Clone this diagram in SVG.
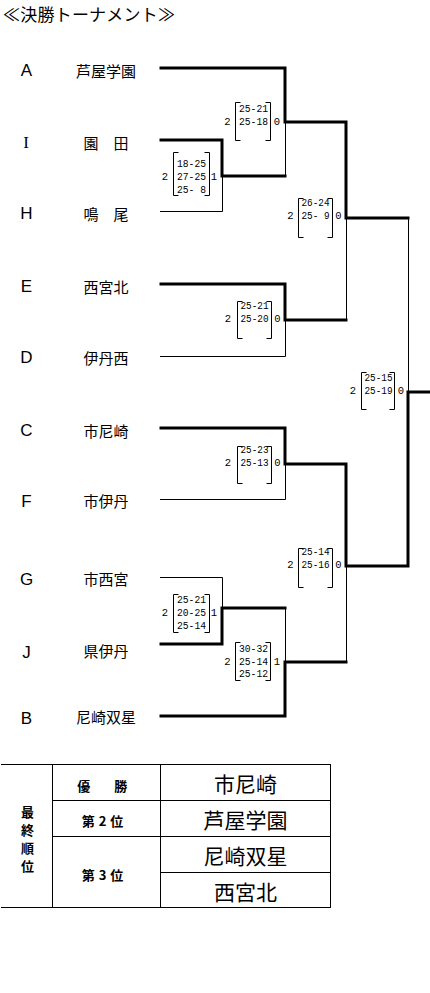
<svg xmlns="http://www.w3.org/2000/svg" width="430" height="993" viewBox="0 0 430 993">
<style>
.ltr{font-family:"Liberation Sans",Arial,sans-serif;font-size:17px;text-anchor:middle;dominant-baseline:central;fill:#000}
.ltr-i{font-family:"Liberation Serif","Times New Roman",serif;font-size:17px;text-anchor:middle;dominant-baseline:central;fill:#000}
.nm{font-family:"Noto Sans CJK JP","Noto Sans CJK SC",sans-serif;font-size:15px;text-anchor:middle;dominant-baseline:central;fill:#000}
.sc{font-family:"Liberation Mono","Courier New",monospace;font-size:10.5px;dominant-baseline:central;fill:#000}
.scn{font-family:"Liberation Mono","Courier New",monospace;font-size:10.5px;text-anchor:middle;dominant-baseline:central;fill:#000}
.br{fill:none;stroke:#000;stroke-width:1}
.thick{fill:none;stroke:#000;stroke-width:3;stroke-linejoin:miter;stroke-linecap:square}
.thin{fill:none;stroke:#000;stroke-width:1}
.tl{fill:none;stroke:#000;stroke-width:1;shape-rendering:crispEdges}
.lab{font-family:"Noto Sans CJK JP","Noto Sans CJK SC",sans-serif;font-size:13px;font-weight:bold;text-anchor:middle;dominant-baseline:central;fill:#000}
.big{font-family:"Noto Sans CJK JP","Noto Sans CJK SC",sans-serif;font-size:21px;text-anchor:middle;dominant-baseline:central;fill:#000}
.title{font-family:"Noto Sans CJK JP","Noto Sans CJK SC",sans-serif;font-size:17px;dominant-baseline:central;fill:#000}
</style>
<rect x="0" y="0" width="430" height="993" fill="#fff"/>

<g id="title">
<text class="title" x="3" y="13" textLength="172" lengthAdjust="spacing">≪決勝トーナメント≫</text>
</g>

<g id="connectors">
<path class="thick" d="M161,68 H285 V122 H346 V218 H408"/>
<path class="thick" d="M161,140 H222 V176 H285"/>
<path class="thick" d="M161,284 H285 V320 H346"/>
<path class="thick" d="M161,428 H285 V464 H346 V566 H408 V392 H430"/>
<path class="thick" d="M161,644 H222 V608 H285"/>
<path class="thick" d="M161,716 H285 V662 H346"/>
<path class="thin" d="M160,211.5 H222.5 V176"/>
<path class="thin" d="M285.5,122 V176"/>
<path class="thin" d="M160,356.5 H285.5 V320"/>
<path class="thin" d="M346.5,218 V320"/>
<path class="thin" d="M408.5,218 V392"/>
<path class="thin" d="M160,499.5 H285.5 V464"/>
<path class="thin" d="M160,577.5 H222.5 V608"/>
<path class="thin" d="M285.5,608 V662"/>
<path class="thin" d="M346.5,566 V662"/>
</g>

<g id="team-A"><text class="ltr" x="26.5" y="70">A</text><text class="nm" x="106" y="70">芦屋学園</text></g>
<g id="team-I"><text class="ltr-i" x="26" y="142">I</text><text class="nm" x="106" y="142">園　田</text></g>
<g id="team-H"><text class="ltr" x="26.5" y="213">H</text><text class="nm" x="106" y="213">鳴　尾</text></g>
<g id="team-E"><text class="ltr" x="26.5" y="286">E</text><text class="nm" x="106" y="286">西宮北</text></g>
<g id="team-D"><text class="ltr" x="26.5" y="357">D</text><text class="nm" x="106" y="357">伊丹西</text></g>
<g id="team-C"><text class="ltr" x="26.5" y="430">C</text><text class="nm" x="106" y="430">市尼崎</text></g>
<g id="team-F"><text class="ltr" x="26.5" y="501">F</text><text class="nm" x="106" y="500">市伊丹</text></g>
<g id="team-G"><text class="ltr" x="26.5" y="579">G</text><text class="nm" x="106" y="578">市西宮</text></g>
<g id="team-J"><text class="ltr" x="26.5" y="652">J</text><text class="nm" x="106" y="650">県伊丹</text></g>
<g id="team-B"><text class="ltr" x="26.5" y="718">B</text><text class="nm" x="106" y="716">尼崎双星</text></g>

<g id="match-IH">
<path class="br" d="M178.5,152.5 H173.5 V195.5 H178.5 M204.5,152.5 H209.5 V195.5 H204.5"/>
<text class="scn" x="165" y="177">2</text><text class="scn" x="214" y="177">1</text>
<text class="sc" x="177" y="164" textLength="29" lengthAdjust="spacingAndGlyphs" xml:space="preserve">18-25</text>
<text class="sc" x="177" y="177" textLength="29" lengthAdjust="spacingAndGlyphs" xml:space="preserve">27-25</text>
<text class="sc" x="177" y="190" textLength="29" lengthAdjust="spacingAndGlyphs" xml:space="preserve">25- 8</text>
</g>

<g id="match-A">
<path class="br" d="M240.5,102.5 H235.5 V140.5 H240.5 M265.5,102.5 H270.5 V140.5 H265.5"/>
<text class="scn" x="227.5" y="121.5">2</text><text class="scn" x="277" y="121.5">0</text>
<text class="sc" x="239" y="108.5" textLength="29" lengthAdjust="spacingAndGlyphs" xml:space="preserve">25-21</text>
<text class="sc" x="239" y="121.5" textLength="29" lengthAdjust="spacingAndGlyphs" xml:space="preserve">25-18</text>
</g>

<g id="match-ED">
<path class="br" d="M242.5,301.5 H237.5 V338.5 H242.5 M266.5,301.5 H271.5 V338.5 H266.5"/>
<text class="scn" x="228" y="319">2</text><text class="scn" x="277.5" y="319">0</text>
<text class="sc" x="240.5" y="306" textLength="28" lengthAdjust="spacingAndGlyphs" xml:space="preserve">25-21</text>
<text class="sc" x="240.5" y="319" textLength="28" lengthAdjust="spacingAndGlyphs" xml:space="preserve">25-20</text>
</g>

<g id="match-SF1">
<path class="br" d="M303.5,198.5 H298.5 V237.5 H303.5 M327.5,198.5 H332.5 V237.5 H327.5"/>
<text class="scn" x="290.5" y="216">2</text><text class="scn" x="338.5" y="216">0</text>
<text class="sc" x="301.5" y="203" textLength="28" lengthAdjust="spacingAndGlyphs" xml:space="preserve">26-24</text>
<text class="sc" x="301.5" y="216" textLength="28" lengthAdjust="spacingAndGlyphs" xml:space="preserve">25- 9</text>
</g>

<g id="match-final">
<path class="br" d="M366.5,372.5 H361.5 V409.5 H366.5 M389.5,372.5 H394.5 V409.5 H389.5"/>
<text class="scn" x="353" y="391">2</text><text class="scn" x="401" y="391">0</text>
<text class="sc" x="364.5" y="378" textLength="28" lengthAdjust="spacingAndGlyphs" xml:space="preserve">25-15</text>
<text class="sc" x="364.5" y="391" textLength="28" lengthAdjust="spacingAndGlyphs" xml:space="preserve">25-19</text>
</g>

<g id="match-CF">
<path class="br" d="M242.5,446.5 H237.5 V483.5 H242.5 M266.5,446.5 H271.5 V483.5 H266.5"/>
<text class="scn" x="228" y="463">2</text><text class="scn" x="277.5" y="463">0</text>
<text class="sc" x="240.5" y="450" textLength="28" lengthAdjust="spacingAndGlyphs" xml:space="preserve">25-23</text>
<text class="sc" x="240.5" y="463" textLength="28" lengthAdjust="spacingAndGlyphs" xml:space="preserve">25-13</text>
</g>

<g id="match-SF2">
<path class="br" d="M303.5,548.5 H298.5 V587.5 H303.5 M327.5,548.5 H332.5 V587.5 H327.5"/>
<text class="scn" x="290.5" y="565">2</text><text class="scn" x="338.5" y="565">0</text>
<text class="sc" x="301.5" y="552" textLength="28" lengthAdjust="spacingAndGlyphs" xml:space="preserve">25-14</text>
<text class="sc" x="301.5" y="565" textLength="28" lengthAdjust="spacingAndGlyphs" xml:space="preserve">25-16</text>
</g>

<g id="match-GJ">
<path class="br" d="M178.5,594.5 H173.5 V632.5 H178.5 M204.5,594.5 H209.5 V632.5 H204.5"/>
<text class="scn" x="165" y="613">2</text><text class="scn" x="214" y="613">1</text>
<text class="sc" x="177" y="600" textLength="29" lengthAdjust="spacingAndGlyphs" xml:space="preserve">25-21</text>
<text class="sc" x="177" y="613" textLength="29" lengthAdjust="spacingAndGlyphs" xml:space="preserve">20-25</text>
<text class="sc" x="177" y="626" textLength="29" lengthAdjust="spacingAndGlyphs" xml:space="preserve">25-14</text>
</g>

<g id="match-JB">
<path class="br" d="M240.5,642.5 H235.5 V680.5 H240.5 M265.5,642.5 H270.5 V680.5 H265.5"/>
<text class="scn" x="227.5" y="661.5">2</text><text class="scn" x="277" y="661.5">1</text>
<text class="sc" x="239" y="648.5" textLength="29" lengthAdjust="spacingAndGlyphs" xml:space="preserve">30-32</text>
<text class="sc" x="239" y="661.5" textLength="29" lengthAdjust="spacingAndGlyphs" xml:space="preserve">25-14</text>
<text class="sc" x="239" y="674" textLength="29" lengthAdjust="spacingAndGlyphs" xml:space="preserve">25-12</text>
</g>

<g id="ranking-table">
<path class="tl" d="M1,764.5 H330.5 M1,907.5 H330.5 M52.5,764.5 V907.5 M160.5,764.5 V907.5 M330.5,764.5 V907.5 M52.5,800.5 H330.5 M52.5,836.5 H330.5 M160.5,872.5 H330.5"/>
<text class="lab" x="27.5" y="811">最</text>
<text class="lab" x="27.5" y="829">終</text>
<text class="lab" x="27.5" y="847">順</text>
<text class="lab" x="27.5" y="865">位</text>
<text class="lab" x="105" y="785" letter-spacing="5.5">優　勝</text>
<text class="lab" x="104.5" y="820" letter-spacing="4">第2位</text>
<text class="lab" x="104.5" y="874" letter-spacing="4">第3位</text>
<text class="big" x="245.5" y="782.5">市尼崎</text>
<text class="big" x="245.5" y="818.5">芦屋学園</text>
<text class="big" x="245.5" y="855">尼崎双星</text>
<text class="big" x="245.5" y="891">西宮北</text>
</g>
</svg>
